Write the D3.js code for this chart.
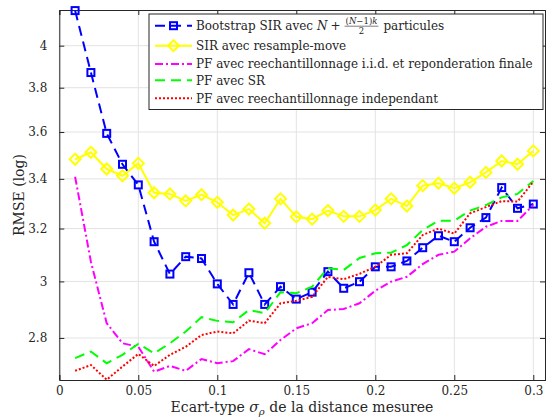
<!DOCTYPE html>
<html lang="fr">
<head>
<meta charset="UTF-8">
<title>RMSE</title>
<script src="https://cdnjs.cloudflare.com/ajax/libs/d3/7.8.5/d3.min.js"></script>
<style>
  body { margin: 0; background: #fff; }
</style>
</head>
<body>
<svg id="chart" width="547" height="417"></svg>
<script>
// sigma_rho values
const sigmas = [0.01, 0.02, 0.03, 0.04, 0.05, 0.06, 0.07, 0.08, 0.09, 0.10,
                0.11, 0.12, 0.13, 0.14, 0.15, 0.16, 0.17, 0.18, 0.19, 0.20,
                0.21, 0.22, 0.23, 0.24, 0.25, 0.26, 0.27, 0.28, 0.29, 0.30];

const bootstrap = [4.175, 3.871, 3.594, 3.461, 3.375, 3.149, 3.027, 3.092, 3.085, 2.991,
                   2.917, 3.032, 2.917, 2.981, 2.936, 2.961, 3.036, 2.975, 2.999, 3.054,
                   3.054, 3.076, 3.126, 3.172, 3.149, 3.203, 3.243, 3.364, 3.280, 3.297];
const resampleMove = [3.482, 3.512, 3.441, 3.413, 3.465, 3.343, 3.338, 3.310, 3.335, 3.304,
                      3.253, 3.277, 3.221, 3.318, 3.246, 3.237, 3.271, 3.248, 3.248, 3.273,
                      3.318, 3.289, 3.372, 3.382, 3.361, 3.386, 3.427, 3.475, 3.461, 3.518];
const iidFinal = [3.409, 3.073, 2.851, 2.782, 2.770, 2.687, 2.706, 2.690, 2.729, 2.715,
                  2.722, 2.762, 2.745, 2.793, 2.833, 2.851, 2.897, 2.901, 2.921, 2.966,
                  2.999, 3.017, 3.064, 3.099, 3.111, 3.162, 3.207, 3.230, 3.230, 3.293];
const withSR = [2.732, 2.754, 2.715, 2.743, 2.780, 2.748, 2.782, 2.822, 2.872, 2.859,
                2.854, 2.897, 2.886, 2.961, 2.957, 2.981, 3.049, 3.042, 3.087, 3.105,
                3.107, 3.136, 3.194, 3.231, 3.231, 3.271, 3.293, 3.324, 3.338, 3.391];
const independent = [2.690, 2.709, 2.661, 2.704, 2.746, 2.706, 2.743, 2.770, 2.810, 2.822,
                     2.816, 2.860, 2.851, 2.921, 2.930, 2.944, 3.017, 3.008, 3.028, 3.054,
                     3.099, 3.105, 3.175, 3.200, 3.180, 3.260, 3.285, 3.309, 3.307, 3.388];

const xTicks = [0, 0.05, 0.1, 0.15, 0.2, 0.25, 0.3];
const xTickLabels = ["0", "0.05", "0.1", "0.15", "0.2", "0.25", "0.3"];
const yTicks = [2.8, 3, 3.2, 3.4, 3.6, 3.8, 4];
const yTickLabels = ["2.8", "3", "3.2", "3.4", "3.6", "3.8", "4"];

const legendLabels = [
  null, // bootstrap label built with a fraction below
  "SIR avec resample-move",
  "PF avec reechantillonnage i.i.d. et reponderation finale",
  "PF avec SR",
  "PF avec reechantillonnage independant"
];

const series = [
  { values: bootstrap,    color: "#0000ff", dash: "10,6",     marker: "square" },
  { values: resampleMove, color: "#ffff00", dash: null,       marker: "diamond" },
  { values: iidFinal,     color: "#ff00ff", dash: "8,3,2,3",  marker: null },
  { values: withSR,       color: "#00ff00", dash: "10,6",     marker: null },
  { values: independent,  color: "#ff0000", dash: "2,2",      marker: null }
];

const FONT = "'DejaVu Serif', serif";
const pLeft = 59.3, pRight = 545, pTop = 10, pBottom = 380;
const svg = d3.select("#chart").style("font-family", FONT);

const x = d3.scaleLinear().domain([0, 0.3074]).range([pLeft, pRight]);
const y = d3.scaleLog().domain([2.66, 4.178]).range([pBottom, pTop]);

// grid
const grid = svg.append("g").attr("stroke", "#e3e3e3").attr("stroke-width", 1);
xTicks.forEach(t => grid.append("line")
  .attr("x1", x(t)).attr("x2", x(t)).attr("y1", pTop).attr("y2", pBottom));
yTicks.forEach(t => grid.append("line")
  .attr("x1", pLeft).attr("x2", pRight).attr("y1", y(t)).attr("y2", y(t)));

// axes (MATLAB style: inward ticks on all four sides)
const axisColor = "#262626";
const tl = 5;
const bottomAxis = svg.append("g").attr("transform", `translate(0,${pBottom})`)
  .call(d3.axisBottom(x).tickValues(xTicks).tickSize(-tl).tickPadding(6)
    .tickFormat((d, i) => xTickLabels[i]));
const topAxis = svg.append("g").attr("transform", `translate(0,${pTop})`)
  .call(d3.axisTop(x).tickValues(xTicks).tickSize(-tl).tickFormat(""));
const leftAxis = svg.append("g").attr("transform", `translate(${pLeft},0)`)
  .call(d3.axisLeft(y).tickValues(yTicks).tickSize(-tl).tickPadding(12)
    .tickFormat((d, i) => yTickLabels[i]));
const rightAxis = svg.append("g").attr("transform", `translate(${pRight},0)`)
  .call(d3.axisRight(y).tickValues(yTicks).tickSize(-tl).tickFormat(""));

[bottomAxis, topAxis, leftAxis, rightAxis].forEach(a => {
  a.attr("font-family", null);
  a.select(".domain").attr("stroke", axisColor).attr("stroke-width", 1);
  a.selectAll(".tick line").attr("stroke", axisColor);
  a.selectAll(".tick text").attr("fill", axisColor)
    .style("font-family", FONT).style("font-size", "12px");
});

// clip for lines
svg.append("clipPath").attr("id", "plotclip").append("rect")
  .attr("x", pLeft).attr("y", pTop - 1).attr("width", pRight - pLeft).attr("height", pBottom - pTop + 1);

const line = d3.line().x((d, i) => x(sigmas[i])).y(d => y(d));

function drawMarker(g, type, cx, cy, color) {
  if (type === "square") {
    g.append("rect").attr("x", cx - 3.5).attr("y", cy - 3.5).attr("width", 7).attr("height", 7)
      .attr("fill", "none").attr("stroke", color).attr("stroke-width", 2);
  } else if (type === "diamond") {
    const r = 5.5;
    g.append("path").attr("d", `M${cx},${cy - r}L${cx + r},${cy}L${cx},${cy + r}L${cx - r},${cy}Z`)
      .attr("fill", "none").attr("stroke", color).attr("stroke-width", 2);
  }
}

// draw order: first series on bottom
series.forEach(s => {
  const g = svg.append("g");
  g.append("path").datum(s.values).attr("d", line)
    .attr("fill", "none").attr("stroke", s.color).attr("stroke-width", 2)
    .attr("stroke-dasharray", s.dash).attr("clip-path", "url(#plotclip)");
  if (s.marker) s.values.forEach((v, i) => drawMarker(g, s.marker, x(sigmas[i]), y(v), s.color));
});

// legend
const lg = svg.append("g");
lg.append("rect").attr("x", 149).attr("y", 14).attr("width", 394).attr("height", 95.5)
  .attr("fill", "#fff").attr("stroke", axisColor).attr("stroke-width", 1);
const rows = [25.7, 45.7, 64, 80.3, 98.3];
const LFS = "12px";
series.forEach((s, i) => {
  const ry = rows[i];
  lg.append("line").attr("x1", 155).attr("x2", 192).attr("y1", ry).attr("y2", ry)
    .attr("stroke", s.color).attr("stroke-width", 2).attr("stroke-dasharray", s.dash);
  if (s.marker) drawMarker(lg, s.marker, 173.5, ry, s.color);
  if (legendLabels[i]) {
    lg.append("text").attr("x", 196).attr("y", ry + 4.2).attr("fill", axisColor)
      .style("font-family", FONT).style("font-size", LFS).text(legendLabels[i]);
  }
});

// bootstrap label with fraction
(function () {
  const ry = rows[0], base = ry + 4.2;
  let cx = 196;
  const put = (txt, italic) => lg.append("text").attr("x", cx).attr("y", base).attr("fill", axisColor)
    .style("font-family", FONT).style("font-size", LFS).style("font-style", italic ? "italic" : "normal")
    .text(txt);
  let t = put("Bootstrap SIR avec");
  cx += t.node().getComputedTextLength() + 4;
  t = put("N", true);
  cx += t.node().getComputedTextLength() + 3;
  t = put("+");
  cx += t.node().getComputedTextLength() + 4;
  // fraction
  const num = lg.append("text").attr("y", ry - 2).attr("fill", axisColor)
    .style("font-family", FONT).style("font-size", "8.5px");
  num.append("tspan").text("(");
  num.append("tspan").style("font-style", "italic").text("N");
  num.append("tspan").text("\u22121)");
  num.append("tspan").style("font-style", "italic").text("k");
  const nw = num.node().getComputedTextLength();
  num.attr("x", cx + 1);
  const fw = nw + 2;
  lg.append("line").attr("x1", cx).attr("x2", cx + fw).attr("y1", ry + 0.5).attr("y2", ry + 0.5)
    .attr("stroke", axisColor).attr("stroke-width", 0.6);
  lg.append("text").attr("x", cx + fw / 2).attr("y", ry + 8.5).attr("text-anchor", "middle")
    .attr("fill", axisColor).style("font-family", FONT).style("font-size", "8.5px").text("2");
  cx += fw + 5;
  put("particules");
})();

// axis labels
const xl = svg.append("text").attr("x", 302).attr("y", 412).attr("text-anchor", "middle")
  .attr("fill", axisColor).style("font-family", FONT).style("font-size", "14px");
xl.append("tspan").text("Ecart-type ");
xl.append("tspan").style("font-style", "italic").text("\u03c3");
xl.append("tspan").style("font-style", "italic").style("font-size", "10px").attr("dy", 3).text("\u03c1");
xl.append("tspan").attr("dy", -3).text(" de la distance mesuree");

svg.append("text").attr("transform", "translate(24,195) rotate(-90)").attr("text-anchor", "middle")
  .attr("fill", axisColor).style("font-family", FONT).style("font-size", "14px").text("RMSE (log)");
</script>
</body>
</html>
